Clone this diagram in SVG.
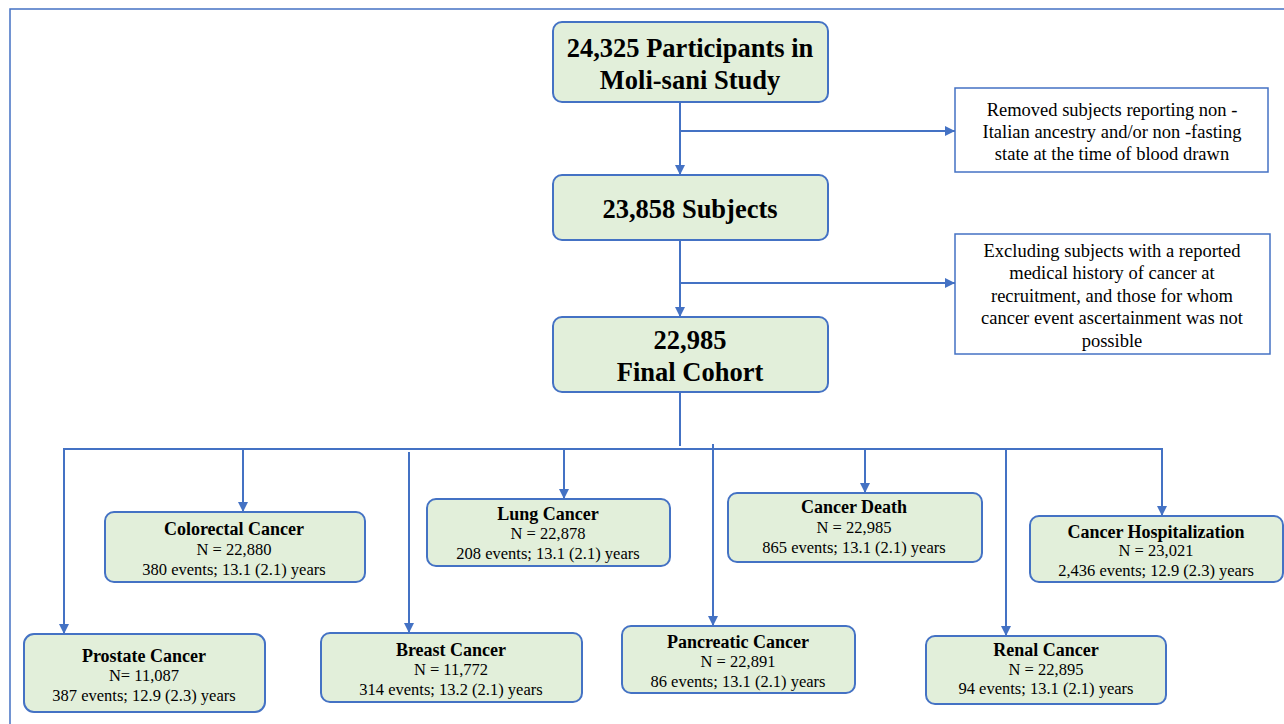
<svg xmlns="http://www.w3.org/2000/svg" width="1284" height="724" viewBox="0 0 1284 724">
<defs>
<marker id="arr" viewBox="0 0 10 10" refX="10" refY="5" markerWidth="5" markerHeight="5" orient="auto" markerUnits="strokeWidth">
<path d="M0,0 L10,5 L0,10 z" fill="#4472C4"/>
</marker>
</defs>
<style>
.main{fill:#E2EFDA;stroke:#4472C4;stroke-width:2}
.ex{fill:#FFFFFF;stroke:#4472C4;stroke-width:1.5}
.big{font-family:"Liberation Serif","Times New Roman",serif;font-weight:bold;font-size:26.5px;fill:#000;text-anchor:middle}
.note{font-family:"Liberation Serif","Times New Roman",serif;font-size:18.5px;fill:#000;text-anchor:middle}
.tt{font-family:"Liberation Serif","Times New Roman",serif;font-weight:bold;font-size:18px;fill:#000;text-anchor:middle}
.st{font-family:"Liberation Serif","Times New Roman",serif;font-size:16.5px;fill:#000;text-anchor:middle}
.c{fill:none;stroke:#4472C4;stroke-width:2}
.ca{fill:none;stroke:#4472C4;stroke-width:2;marker-end:url(#arr)}
.frame{fill:none;stroke:#4472C4;stroke-width:1.5}
</style>
<rect width="1284" height="724" fill="#FFFFFF"/>
<path class="frame" d="M10,724 L10,9 L1284,9"/>

<g id="connectors">
<line class="ca" x1="680" y1="102" x2="680" y2="175"/>
<line class="ca" x1="680" y1="131" x2="955" y2="131"/>
<line class="ca" x1="680" y1="240" x2="680" y2="317"/>
<line class="ca" x1="680" y1="283" x2="955" y2="283"/>
<line class="c" x1="680" y1="392" x2="680" y2="446"/>
<line class="c" x1="63" y1="449" x2="1163" y2="449"/>
<line class="ca" x1="64" y1="449" x2="64" y2="634"/>
<line class="ca" x1="243" y1="449" x2="243" y2="512"/>
<line class="ca" x1="409" y1="452" x2="409" y2="633"/>
<line class="ca" x1="564" y1="449" x2="564" y2="499"/>
<line class="ca" x1="713" y1="444" x2="713" y2="626"/>
<line class="ca" x1="865" y1="449" x2="865" y2="493"/>
<line class="ca" x1="1006" y1="449" x2="1006" y2="636"/>
<line class="ca" x1="1162" y1="449" x2="1162" y2="516"/>
</g>

<g id="n-participants">
<rect class="main" x="553" y="22" width="275" height="80" rx="9"/>
<text class="big" x="690" y="57">24,325 Participants in</text>
<text class="big" x="690" y="89">Moli-sani Study</text>
</g>

<g id="n-removed">
<rect class="ex" x="955" y="88" width="313" height="84"/>
<text class="note" x="1112" y="116">Removed subjects reporting non -</text>
<text class="note" x="1112" y="138">Italian ancestry and/or non -fasting</text>
<text class="note" x="1112" y="160">state at the time of blood drawn</text>
</g>

<g id="n-subjects">
<rect class="main" x="553" y="175" width="275" height="65" rx="9"/>
<text class="big" x="690" y="218">23,858 Subjects</text>
</g>

<g id="n-excluding">
<rect class="ex" x="955" y="234" width="315" height="120"/>
<text class="note" x="1112" y="257">Excluding subjects with a reported</text>
<text class="note" x="1112" y="279">medical history of cancer at</text>
<text class="note" x="1112" y="302">recruitment, and those for whom</text>
<text class="note" x="1112" y="324">cancer event ascertainment was not</text>
<text class="note" x="1112" y="347">possible</text>
</g>

<g id="n-final">
<rect class="main" x="553" y="317" width="275" height="75" rx="9"/>
<text class="big" x="690" y="349">22,985</text>
<text class="big" x="690" y="381">Final Cohort</text>
</g>

<g id="n-colorectal">
<rect class="main" x="105" y="512" width="260" height="70" rx="9"/>
<text class="tt" x="234" y="535">Colorectal Cancer</text>
<text class="st" x="234" y="555">N = 22,880</text>
<text class="st" x="234" y="575">380 events; 13.1 (2.1) years</text>
</g>

<g id="n-lung">
<rect class="main" x="427" y="499" width="243" height="67" rx="9"/>
<text class="tt" x="548" y="520">Lung Cancer</text>
<text class="st" x="548" y="539">N = 22,878</text>
<text class="st" x="548" y="559">208 events; 13.1 (2.1) years</text>
</g>

<g id="n-death">
<rect class="main" x="728" y="493" width="254" height="69" rx="9"/>
<text class="tt" x="854" y="513">Cancer Death</text>
<text class="st" x="854" y="533">N = 22,985</text>
<text class="st" x="854" y="553">865 events; 13.1 (2.1) years</text>
</g>

<g id="n-hosp">
<rect class="main" x="1030" y="516" width="253" height="66" rx="9"/>
<text class="tt" x="1156" y="538">Cancer Hospitalization</text>
<text class="st" x="1156" y="556">N = 23,021</text>
<text class="st" x="1156" y="576">2,436 events; 12.9 (2.3) years</text>
</g>

<g id="n-prostate">
<rect class="main" x="24" y="634" width="241" height="78" rx="10"/>
<text class="tt" x="144" y="662">Prostate Cancer</text>
<text class="st" x="144" y="681">N= 11,087</text>
<text class="st" x="144" y="701">387 events; 12.9 (2.3) years</text>
</g>

<g id="n-breast">
<rect class="main" x="321" y="633" width="261" height="69" rx="9"/>
<text class="tt" x="451" y="656">Breast Cancer</text>
<text class="st" x="451" y="675">N = 11,772</text>
<text class="st" x="451" y="695">314 events; 13.2 (2.1) years</text>
</g>

<g id="n-pancreatic">
<rect class="main" x="622" y="626" width="233" height="67" rx="9"/>
<text class="tt" x="738" y="648">Pancreatic Cancer</text>
<text class="st" x="738" y="667">N = 22,891</text>
<text class="st" x="738" y="687">86 events; 13.1 (2.1) years</text>
</g>

<g id="n-renal">
<rect class="main" x="926" y="636" width="240" height="68" rx="9"/>
<text class="tt" x="1046" y="656">Renal Cancer</text>
<text class="st" x="1046" y="675">N = 22,895</text>
<text class="st" x="1046" y="694">94 events; 13.1 (2.1) years</text>
</g>
</svg>
